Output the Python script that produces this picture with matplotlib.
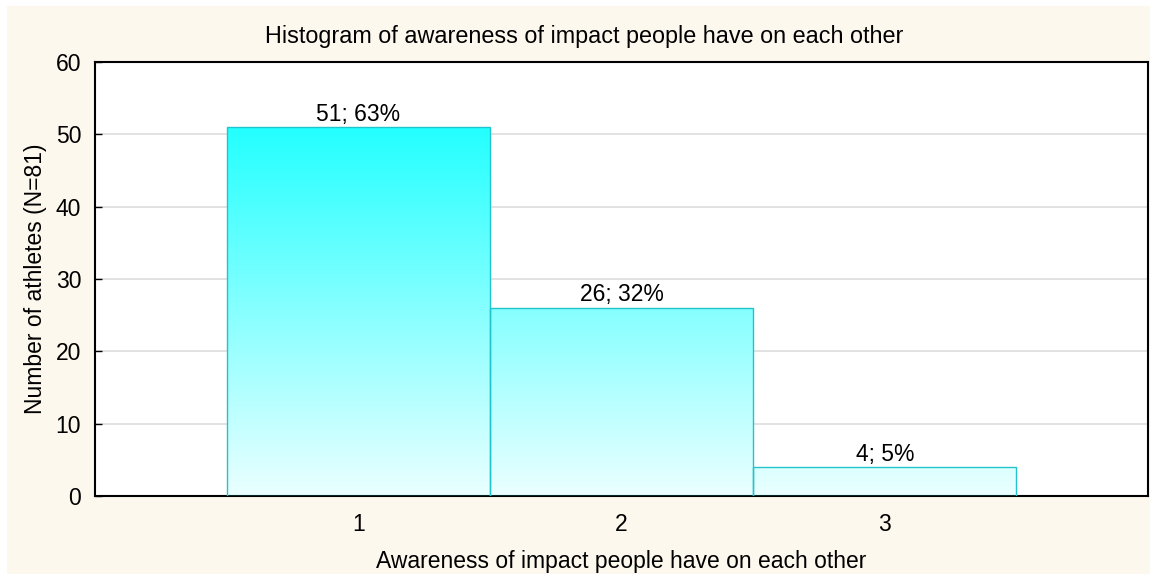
import numpy as np
import matplotlib.pyplot as plt
from matplotlib.patches import Rectangle

plt.rcParams['font.family'] = ['Liberation Sans', 'DejaVu Sans']

# data
categories = [1, 2, 3]
counts = [51, 26, 4]
percents = [63, 32, 5]
tick_labels = ['1', '2', '3']

fig = plt.figure(figsize=(11.52, 5.76), dpi=100, facecolor='white')
# cream panel behind everything
fig.patches.append(Rectangle((7 / 1152, 2 / 576), 1143 / 1152, 568 / 576,
                             transform=fig.transFigure, facecolor='#fdf8ee',
                             edgecolor='none', zorder=-10))

ax = fig.add_axes([95 / 1152, 80 / 576, 1053 / 1152, 434 / 576])
ax.set_facecolor('white')
ax.set_xlim(0, 4)
ax.set_ylim(0, 60)

# vertical gradient, near white at bottom to cyan at top
grad = np.linspace(0, 1, 256).reshape(-1, 1)
rgb = np.zeros((256, 1, 3))
rgb[:, :, 0] = 0.92 * (1 - grad)
rgb[:, :, 1] = 1.0
rgb[:, :, 2] = 1.0

bars = ax.bar(categories, counts, width=1.0, facecolor='none',
              edgecolor='#22c4cc', linewidth=1.0, zorder=3)
for b in bars:
    im = ax.imshow(rgb, extent=[0, 4, 0, 60], origin='lower', aspect='auto',
                   zorder=2, interpolation='bilinear')
    im.set_clip_path(b)

for x, c, p in zip(categories, counts, percents):
    ax.text(x, c + 0.2, f'{c}; {p}%', ha='center', va='bottom', fontsize=16.5)

ax.set_yticks(range(0, 61, 10))
ax.set_xticks(categories)
ax.set_xticklabels(tick_labels)
ax.tick_params(direction='in', labelsize=16.5, length=5, width=1)
ax.tick_params(axis='x', pad=12)
ax.tick_params(axis='y', pad=10)
ax.grid(True, axis='y', color='#dddddd', linewidth=1.2, zorder=0)
ax.set_axisbelow(True)
for s in ax.spines.values():
    s.set_linewidth(1.5)

ax.set_xlabel('Awareness of impact people have on each other', fontsize=16.5, labelpad=10)
ax.set_ylabel('Number of athletes (N=81)', fontsize=16.5, labelpad=6)
fig.text(584 / 1152, 1 - 36 / 576, 'Histogram of awareness of impact people have on each other',
         ha='center', va='center', fontsize=16.8)

fig.savefig('out.png', dpi=100, facecolor=fig.get_facecolor())
